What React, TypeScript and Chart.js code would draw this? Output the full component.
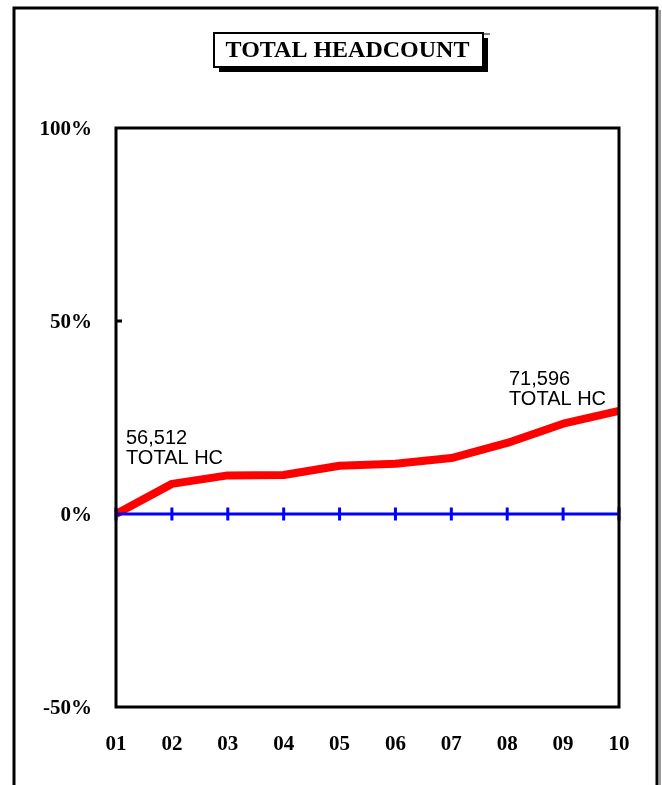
import React, { useEffect, useRef } from "react";
import { Chart, registerables } from "chart.js";

Chart.register(...registerables);

const categories = ["01", "02", "03", "04", "05", "06", "07", "08", "09", "10"];
const hcChangePct = [0, 7.8, 10.0, 10.1, 12.5, 13.0, 14.5, 18.4, 23.4, 26.7];
const baselinePct = [0, 0, 0, 0, 0, 0, 0, 0, 0, 0];
const yTickValues = [-50, 0, 50, 100];
const titleText = "TOTAL HEADCOUNT";
const startLabel = ["56,512", "TOTAL HC"];
const endLabel = ["71,596", "TOTAL HC"];

const W = 662;
const H = 785;
const SERIF = "'Liberation Serif', 'Times New Roman', serif";
const SANS = "'Liberation Sans', Arial, sans-serif";

const decorPlugin = {
  id: "decor",
  beforeDraw(chart: any) {
    const ctx = chart.ctx;
    ctx.save();
    ctx.fillStyle = "#ffffff";
    ctx.fillRect(0, 0, W, H);
    // outer frame
    ctx.strokeStyle = "#000";
    ctx.lineWidth = 3;
    ctx.beginPath();
    ctx.moveTo(14, H + 5);
    ctx.lineTo(14, 8);
    ctx.lineTo(657, 8);
    ctx.lineTo(657, H + 5);
    ctx.stroke();
    ctx.strokeStyle = "#9a9a9a";
    ctx.lineWidth = 2;
    ctx.beginPath();
    ctx.moveTo(660, 10);
    ctx.lineTo(660, H + 5);
    ctx.stroke();
    // title box with shadow
    const bx = 214, by = 33, bw = 269, bh = 34;
    ctx.fillStyle = "#000";
    ctx.fillRect(bx + 5, by + 5, bw, bh);
    ctx.fillStyle = "#fff";
    ctx.fillRect(bx, by, bw, bh);
    ctx.strokeStyle = "#000";
    ctx.lineWidth = 2;
    ctx.strokeRect(bx, by, bw, bh);
    ctx.lineWidth = 1;
    ctx.beginPath();
    ctx.moveTo(bx + bw, by + 1);
    ctx.lineTo(bx + bw + 7, by + 1);
    ctx.stroke();
    ctx.fillStyle = "#000";
    ctx.font = `bold 24px ${SERIF}`;
    ctx.textAlign = "center";
    ctx.textBaseline = "middle";
    ctx.fillText(titleText, bx + bw / 2 - 1, by + bh / 2 + 1);
    ctx.restore();
  },
  afterDatasetsDraw(chart: any) {
    const ctx = chart.ctx;
    const a = chart.chartArea;
    const xs = chart.scales.x;
    const ys = chart.scales.y;
    ctx.save();
    // plot frame
    ctx.strokeStyle = "#000";
    ctx.lineWidth = 3;
    ctx.strokeRect(a.left, a.top, a.right - a.left, a.bottom - a.top);
    // small tick at 50%
    const y50 = ys.getPixelForValue(50);
    ctx.lineWidth = 3;
    ctx.beginPath();
    ctx.moveTo(a.left, y50);
    ctx.lineTo(a.left + 6, y50);
    ctx.stroke();
    // annotations
    ctx.fillStyle = "#000";
    ctx.font = `20px ${SANS}`;
    ctx.textAlign = "left";
    ctx.textBaseline = "alphabetic";
    const x0 = xs.getPixelForValue(0);
    const y0 = ys.getPixelForValue(hcChangePct[0]);
    ctx.fillText(startLabel[0], x0 + 10, y0 - 70);
    ctx.fillText(startLabel[1], x0 + 10, y0 - 50);
    const n = hcChangePct.length - 1;
    const xn = xs.getPixelForValue(n);
    const yn = ys.getPixelForValue(hcChangePct[n]);
    ctx.fillText(endLabel[0], xn - 110, yn - 26);
    ctx.fillText(endLabel[1], xn - 110, yn - 6);
    ctx.restore();
  },
};

export default function App() {
  const ref = useRef<HTMLCanvasElement | null>(null);
  useEffect(() => {
    if (!ref.current) return;
    const chart = new Chart(ref.current, {
      type: "line",
      data: {
        labels: categories,
        datasets: [
          {
            label: "Baseline",
            data: baselinePct,
            borderColor: "#0000ff",
            borderWidth: 3,
            pointStyle: "line",
            pointRotation: 90,
            pointRadius: 6.5,
            pointBorderColor: "#0000ff",
            pointBorderWidth: 3,
            tension: 0,
          },
          {
            label: "Total HC",
            data: hcChangePct,
            borderColor: "#ff0000",
            borderWidth: 8,
            pointRadius: 0,
            tension: 0,
            borderJoinStyle: "round",
            borderCapStyle: "butt",
          },
        ],
      },
      options: {
        responsive: false,
        animation: false,
        devicePixelRatio: 1,
        layout: { padding: { left: 0, right: 43, top: 128, bottom: 0 } },
        plugins: { legend: { display: false }, title: { display: false }, tooltip: { enabled: false } },
        scales: {
          x: {
            offset: false,
            grid: { display: false, drawTicks: false },
            border: { display: false },
            ticks: {
              color: "#000",
              font: { family: SERIF, size: 21, weight: "bold" },
              padding: 25,
              maxRotation: 0,
              autoSkip: false,
            },
            afterFit: (s: any) => {
              s.height = 78;
            },
          },
          y: {
            min: -50,
            max: 100,
            grid: { display: false, drawTicks: false },
            border: { display: false },
            afterBuildTicks: (s: any) => {
              s.ticks = yTickValues.map((v) => ({ value: v }));
            },
            ticks: {
              color: "#000",
              font: { family: SERIF, size: 21, weight: "bold" },
              padding: 24,
              labelOffset: 2,
              callback: (v: any) => `${v}%`,
            },
            afterFit: (s: any) => {
              s.width = 116;
            },
          },
        },
      },
      plugins: [decorPlugin],
    });
    return () => chart.destroy();
  }, []);
  return (
    <div style={{ position: "absolute", left: 0, top: 0, width: W, height: H, overflow: "hidden" }}>
      <canvas ref={ref} width={W} height={H} style={{ display: "block" }} />
    </div>
  );
}
